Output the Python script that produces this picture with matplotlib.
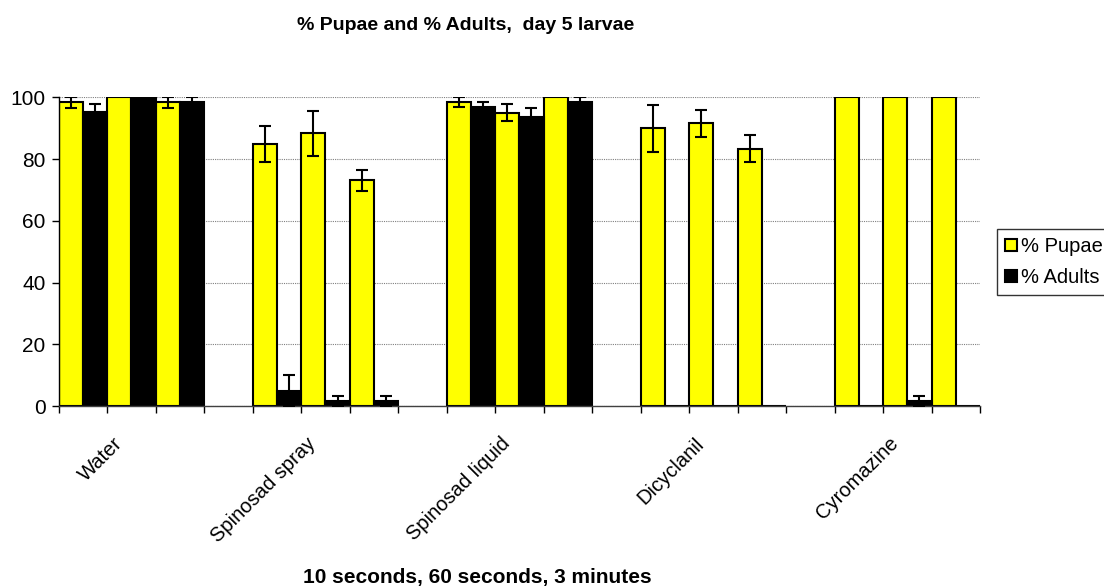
import numpy as np
import matplotlib
matplotlib.use("Agg")
import matplotlib.pyplot as plt
from matplotlib.transforms import ScaledTranslation

plt.rcParams['font.family'] = ['Liberation Sans', 'DejaVu Sans']

# treatments, each measured at 10 s, 60 s, 3 min
groups = ['Water', 'Spinosad spray', 'Spinosad liquid', 'Dicyclanil', 'Cyromazine']
times = ['10 seconds', '60 seconds', '3 minutes']

pupae = [98.4, 100, 98.4,
         85.0, 88.3, 73.2,
         98.4, 95.0, 100,
         89.9, 91.6, 83.3,
         100, 100, 100]
pupae_err = [1.7, 0, 1.7,
             5.8, 7.2, 3.4,
             1.6, 2.8, 0,
             7.6, 4.4, 4.4,
             0, 0, 0]

adults = [95.2, 100, 98.5,
          5.0, 1.6, 1.6,
          96.8, 93.7, 98.5,
          0, 0, 0,
          0, 1.6, 0]
adults_err = [2.6, 0, 1.6,
              5.0, 1.6, 1.6,
              1.6, 2.9, 1.6,
              0, 0, 0,
              0, 1.6, 0]

# category slots: 3 per group, one empty slot between groups
pos = []
for g in range(len(groups)):
    for t in range(len(times)):
        pos.append(g * 4 + t)
pos = np.array(pos)
n_slots = len(groups) * 4 - 1

fig = plt.figure(figsize=(11.04, 5.88), dpi=100)
ax = fig.add_axes([0.0532, 0.3095, 0.8345, 0.525])

ax.yaxis.grid(True, linestyle=(0, (1, 1)), color='#808080', linewidth=0.8)
ax.set_axisbelow(True)

w = 0.5
ax.bar(pos - w / 2, pupae, width=w, color='#FFFF00', edgecolor='black', linewidth=1.5,
       label='% Pupae', zorder=2)
ax.bar(pos + w / 2, adults, width=w, color='black', edgecolor='black', linewidth=1.5,
       label='% Adults', zorder=2)

pe = np.array(pupae_err)
ae = np.array(adults_err)
m = pe > 0
ax.errorbar((pos - w / 2)[m], np.array(pupae)[m], yerr=pe[m], fmt='none', ecolor='black',
            elinewidth=1.5, capsize=4.5, capthick=1.5, zorder=3)
m = ae > 0
ax.errorbar((pos + w / 2)[m], np.array(adults)[m], yerr=ae[m], fmt='none', ecolor='black',
            elinewidth=1.5, capsize=4.5, capthick=1.5, zorder=3)

ax.set_xlim(-0.5, n_slots - 0.5)
ax.set_ylim(0, 100)
ax.set_yticks([0, 20, 40, 60, 80, 100])
ax.tick_params(axis='y', labelsize=15, direction='out', length=5, width=1, pad=4.5)

ax.set_xticks(np.arange(n_slots + 1) - 0.5, minor=True)
ax.set_xticks([g * 4 + 1 for g in range(len(groups))])
ax.set_xticklabels(groups, rotation=45, ha='right', rotation_mode='anchor', fontsize=14.5)
ax.tick_params(axis='x', which='major', length=0, pad=20)
ax.tick_params(axis='x', which='minor', length=5, width=1, direction='out')
shift = ScaledTranslation(-0.19, 0, fig.dpi_scale_trans)
for lab in ax.get_xticklabels():
    lab.set_transform(lab.get_transform() + shift)

for s in ['top', 'right']:
    ax.spines[s].set_visible(False)
ax.spines['left'].set_linewidth(1)
ax.spines['bottom'].set_linewidth(1)
ax.spines['bottom'].set_color('#404040')

fig.text(0.4217, 1 - 30.5 / 588, '% Pupae and % Adults,  day 5 larvae', ha='center',
         va='baseline', fontsize=14, fontweight='bold')
fig.text(0.4325, 1 - 583 / 588, ', '.join(times), ha='center', va='baseline',
         fontsize=15, fontweight='bold')

leg = ax.legend(loc='upper left', bbox_to_anchor=(997 / 1104, 1 - 229 / 588),
                bbox_transform=fig.transFigure, frameon=True, fancybox=False,
                edgecolor='black', fontsize=14.5, handlelength=0.6, handleheight=0.6,
                handletextpad=0.2, borderpad=0.4, labelspacing=0.6, borderaxespad=0)
leg.get_frame().set_linewidth(1)

plt.savefig('out.png', dpi=100)
